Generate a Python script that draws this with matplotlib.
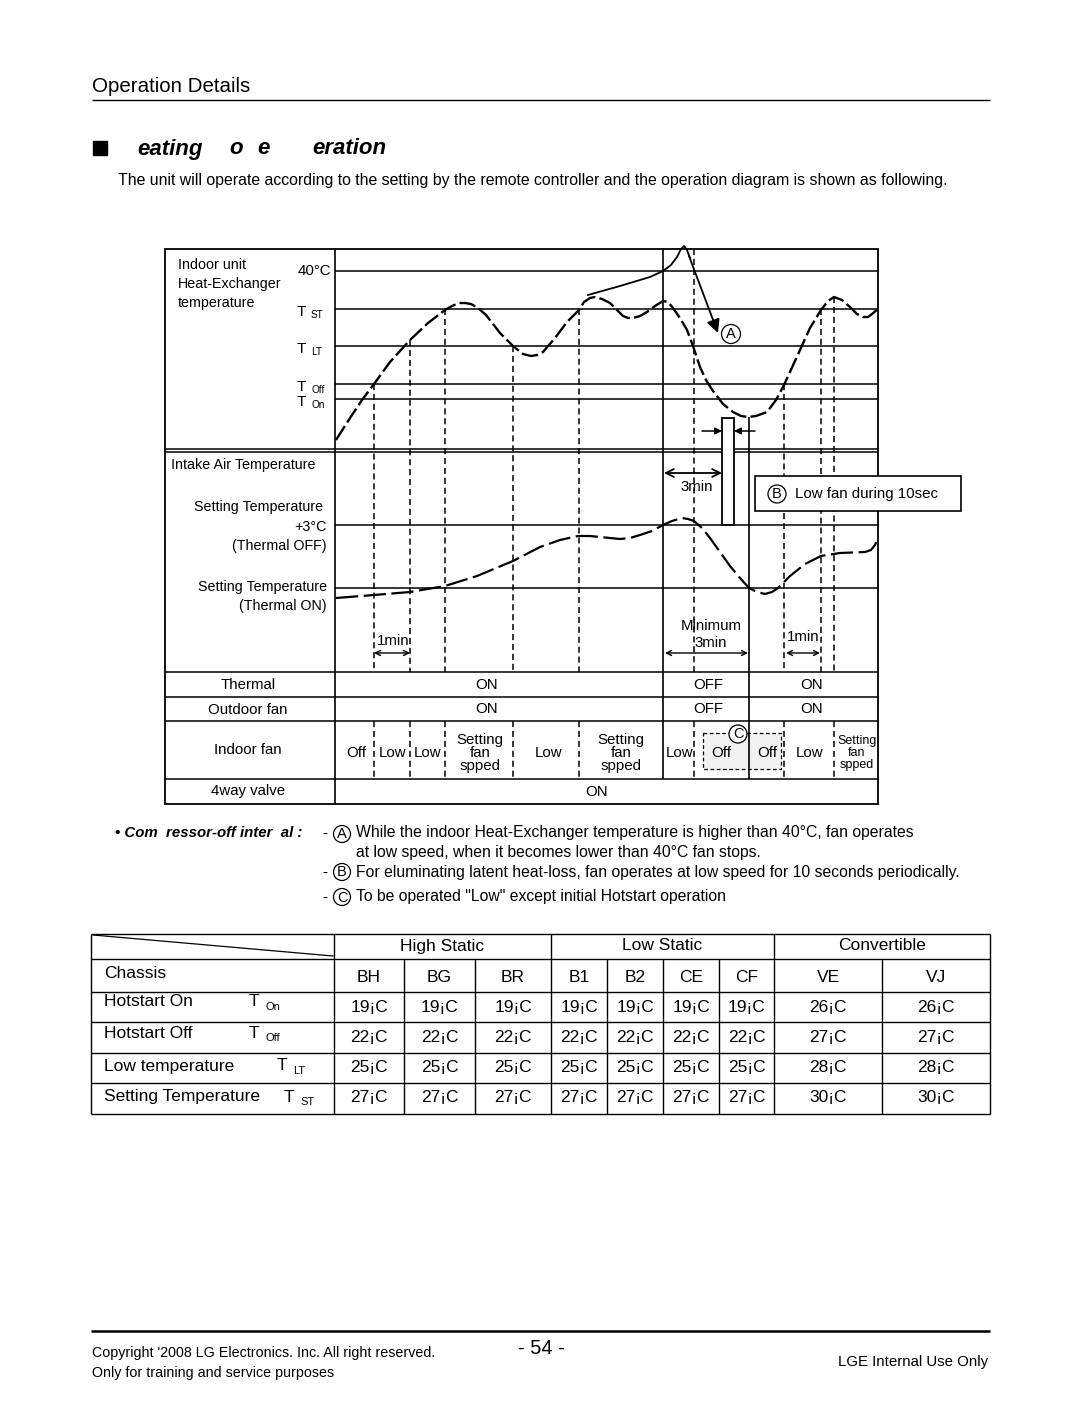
import matplotlib
matplotlib.use("Agg")
import matplotlib.pyplot as plt
from matplotlib.patches import Rectangle, Circle

FONT = ["Liberation Sans", "DejaVu Sans"]

# ---- diagram data (page pixel coordinates) ----
level_labels = ["40°C", "ST", "LT", "Off", "On"]
level_y = [271, 309, 346, 384, 399]
intake_level_y = [525, 588]

# indoor heat-exchanger temperature curve
hx_x = [336, 350, 362, 374, 390, 410, 428, 445, 452, 459, 465, 471, 478, 486, 500,
        513, 523, 531, 537, 543, 555, 567, 579, 584, 590, 595, 602, 610, 617, 623,
        628, 633, 640, 647, 655, 663, 668, 673, 680, 687, 693, 700, 706, 713, 723,
        733, 741, 748, 756, 767, 776, 784, 800, 810, 821, 828, 834, 842, 850, 857,
        863, 868, 872, 878]
hx_y = [440, 418, 400, 384, 362, 340, 323, 310, 306, 303, 303, 304, 308, 315, 333,
        346, 354, 356, 355, 352, 338, 322, 310, 302, 298, 297, 299, 303, 310, 316,
        318, 318, 316, 312, 306, 301, 302, 308, 318, 330, 346, 367, 380, 391, 404,
        412, 416, 417, 416, 412, 400, 385, 350, 328, 310, 301, 297, 300, 307, 314,
        317, 317, 314, 309]

# over-40°C excursion (solid line)
peak_x = [588, 620, 650, 663, 671, 677, 681, 684, 687, 690]
peak_y = [295, 286, 277, 271, 265, 257, 249, 246, 250, 258]

# intake air temperature curve
intake_x = [336, 374, 410, 445, 477, 513, 540, 560, 578, 590, 600, 610, 620, 630,
            640, 652, 663, 672, 682, 688, 694, 702, 710, 720, 730, 740, 749, 757,
            765, 772, 778, 790, 805, 821, 840, 865, 871, 875, 878]
intake_y = [598, 595, 592, 586, 576, 561, 547, 540, 536, 536, 537, 538, 539, 538,
            535, 531, 525, 521, 518, 519, 521, 528, 538, 552, 566, 578, 588, 592,
            594, 592, 588, 576, 564, 556, 553, 552, 550, 545, 538]

# compressor timing markers: (x, top of dashed line)
marker_x = [374, 410, 445, 513, 579, 694, 784, 821, 834]
marker_top = [384, 340, 309, 346, 309, 249, 384, 309, 297]
fan_marker_x = [374, 410, 445, 513, 579, 694, 784, 834]

row_labels = ["Thermal", "Outdoor fan", "Indoor fan", "4way valve"]
thermal_states = ["ON", "OFF", "ON"]
outdoor_states = ["ON", "OFF", "ON"]
state_x = [487, 708, 812]
fan_states = ["Off", "Low", "Low", "Setting\nfan\nspped", "Low", "Setting\nfan\nspped",
              "Low", "Off", "Off", "Low", "Setting\nfan\nspped"]
fan_state_x = [356, 393, 428, 480, 549, 621, 680, 721, 767, 810, 857]

# ---- table data ----
groups = ["High Static", "Low Static", "Convertible"]
chassis = ["BH", "BG", "BR", "B1", "B2", "CE", "CF", "VE", "VJ"]
row_names = ["Hotstart On", "Hotstart Off", "Low temperature", "Setting Temperature"]
row_subs = ["On", "Off", "LT", "ST"]
hotstart_on = [19, 19, 19, 19, 19, 19, 19, 26, 26]
hotstart_off = [22, 22, 22, 22, 22, 22, 22, 27, 27]
low_temp = [25, 25, 25, 25, 25, 25, 25, 28, 28]
setting_temp = [27, 27, 27, 27, 27, 27, 27, 30, 30]

fig = plt.figure(figsize=(10.8, 14.05), dpi=100)
ax = fig.add_axes([0, 0, 1, 1])
ax.set_xlim(0, 1080)
ax.set_ylim(1405, 0)
ax.axis("off")


def put(x, y, s, size=10.5, ha="left", va="center", **kw):
    ax.text(x, y, s, fontsize=size, ha=ha, va=va, family=FONT, **kw)


def hline(y, x0, x1, lw=1.0, **kw):
    ax.plot([x0, x1], [y, y], color="black", lw=lw, solid_capstyle="butt", **kw)


def vline(x, y0, y1, lw=1.0, **kw):
    ax.plot([x, x], [y0, y1], color="black", lw=lw, solid_capstyle="butt", **kw)


def circled(x, y, letter, r=9, size=10.5):
    ax.add_patch(Circle((x, y), r, fc="white", ec="black", lw=0.9, zorder=5))
    put(x, y + 0.5, letter, size=size, ha="center", zorder=6)


# ---- page header ----
put(92, 87, "Operation Details", size=14.8)
hline(100, 92, 990, lw=1.0)
ax.add_patch(Rectangle((93, 141), 14, 14, color="black"))
for x, s in zip([137, 229, 257, 312], ["eating", "o", "e", "eration"]):
    put(x, 149, s, size=16, weight="bold", style="italic")
put(118, 181, "The unit will operate according to the setting by the remote controller "
    "and the operation diagram is shown as following.", size=11.4)

# ---- diagram frame ----
L, M, R = 165, 335, 878
ax.add_patch(Rectangle((L, 249), R - L, 555, fill=False, ec="black", lw=1.3))
vline(M, 249, 804, lw=1.2)
for y in [449, 452, 672, 697, 721, 779]:
    hline(y, L, R, lw=1.1)
for y in level_y + intake_level_y:
    hline(y, M, R, lw=1.1)
vline(663, 249, 779, lw=1.2)
vline(749, 417, 779, lw=1.2)

# left column labels
put(178, 265, "Indoor unit", size=10.3)
put(178, 284, "Heat-Exchanger", size=10.3)
put(178, 303, "temperature", size=10.3)
put(331, 271, level_labels[0], size=10.8, ha="right")
for y, sub in zip(level_y[1:], level_labels[1:]):
    put(297, y + 3, "T", size=11)
    put(311, y + 6, sub, size=7.2)
put(171, 465, "Intake Air Temperature", size=10.3)
put(323, 507, "Setting Temperature", size=10.3, ha="right")
put(327, 527, "+3°C", size=10.3, ha="right")
put(327, 546, "(Thermal OFF)", size=10.3, ha="right")
put(327, 587, "Setting Temperature", size=10.3, ha="right")
put(327, 606, "(Thermal ON)", size=10.3, ha="right")
for y, s in zip([685, 710, 750, 791], row_labels):
    put(248, y, s, size=10.8, ha="center")

# timing markers
for x, top in zip(marker_x, marker_top):
    ax.plot([x, x], [top, 672], color="black", lw=1.1, ls=(0, (4, 2.5)))
for x in fan_marker_x:
    ax.plot([x, x], [721, 779], color="black", lw=1.1, ls=(0, (4, 2.5)))

# curves
ax.plot(hx_x, hx_y, color="black", lw=1.7, ls=(0, (7, 1.8)), solid_joinstyle="round")
ax.plot(peak_x, peak_y, color="black", lw=1.3)
ax.annotate("", xy=(718, 333), xytext=(689, 256),
            arrowprops=dict(arrowstyle="-|>", lw=1.3, color="black", mutation_scale=20,
                            shrinkA=0, shrinkB=0))
circled(731, 334, "A", r=9.5)
ax.plot(intake_x, intake_y, color="black", lw=1.6, ls=(0, (10, 2.5)))

# B: low fan pulse
ax.add_patch(Rectangle((722, 418), 12, 107, fc="white", ec="black", lw=1.3, zorder=4))
ax.annotate("", xy=(722, 431), xytext=(702, 431),
            arrowprops=dict(arrowstyle="-|>", lw=1.1, color="black", mutation_scale=10,
                            shrinkA=0, shrinkB=0))
ax.annotate("", xy=(734, 431), xytext=(755, 431),
            arrowprops=dict(arrowstyle="-|>", lw=1.1, color="black", mutation_scale=10,
                            shrinkA=0, shrinkB=0))
ax.annotate("", xy=(722, 473), xytext=(664, 473),
            arrowprops=dict(arrowstyle="<->", lw=1.3, color="black", mutation_scale=14,
                            shrinkA=0, shrinkB=0))
put(697, 487, "3min", size=10.8, ha="center")
ax.add_patch(Rectangle((755, 476), 206, 35, fc="white", ec="black", lw=1.2, zorder=4))
circled(777, 494, "B", r=9)
put(795, 494, "Low fan during 10sec", size=10.8, zorder=6)

# time spans
for x0, x1 in [(374, 410), (665, 748), (786, 820)]:
    ax.annotate("", xy=(x1, 653), xytext=(x0, 653),
                arrowprops=dict(arrowstyle="<->", lw=1.0, color="black", mutation_scale=9,
                                shrinkA=0, shrinkB=0))
put(393, 641, "1min", size=10.8, ha="center")
put(803, 637, "1min", size=10.8, ha="center")
put(711, 626, "Minimum", size=10.8, ha="center")
put(711, 643, "3min", size=10.8, ha="center")

# state rows
for x, s in zip(state_x, thermal_states):
    put(x, 685, s, size=10.8, ha="center")
for x, s in zip(state_x, outdoor_states):
    put(x, 709, s, size=10.8, ha="center")
put(597, 792, "ON", size=10.8, ha="center")

ax.add_patch(Rectangle((703, 733), 78, 36, fc="#f1f1f1", ec="black", lw=0.9,
                       ls=(0, (3, 2)), zorder=1))
circled(738, 734, "C", r=9)
for x, s in zip(fan_state_x, fan_states):
    small = x > 850
    put(x, 753, s, size=9 if small else 10.8, ha="center", linespacing=0.95)

# ---- notes ----
put(115, 833, "• Com  ressor-off inter  al :", size=10.8, weight="bold", style="italic")
for y in [833, 872, 897]:
    put(322, y, "-", size=11)
circled(342, 834, "A", r=8.5)
circled(342, 872, "B", r=8.5)
circled(342, 897, "C", r=8.5)
put(356, 833, "While the indoor Heat-Exchanger temperature is higher than 40°C, fan operates",
    size=11.3)
put(356, 853, "at low speed, when it becomes lower than 40°C fan stops.", size=11.3)
put(356, 872, "For eluminating latent heat-loss, fan operates at low speed for 10 seconds "
    "periodically.", size=11.3)
put(356, 897, "To be operated \"Low\" except initial Hotstart operation", size=11.3)

# ---- table ----
tL, tR = 91, 990
rows_y = [934, 959, 992, 1022, 1053, 1083, 1114]
col_edges = [334, 404, 475, 551, 607, 663, 719, 774, 882, 990]
for y in rows_y:
    hline(y, tL, tR, lw=1.0)
for x in [tL, 334, 551, 774, tR]:
    vline(x, 934, 1114, lw=1.0)
for x in [404, 475, 607, 663, 719, 882]:
    vline(x, 959, 1114, lw=1.0)
ax.plot([93, 333], [935, 956], color="black", lw=0.9)

for (x0, x1), g in zip([(334, 551), (551, 774), (774, 990)], groups):
    put((x0 + x1) / 2, 946, g, size=12.5, ha="center")
put(104, 973, "Chassis", size=12.5)
col_cx = [(col_edges[i] + col_edges[i + 1]) / 2 for i in range(len(chassis))]
for cx, c in zip(col_cx, chassis):
    put(cx, 977, c, size=12.5, ha="center")

name_y = [1002, 1033, 1066, 1097]
t_x = [249, 249, 277, 284]
for y, name, sub, tx in zip(name_y, row_names, row_subs, t_x):
    put(104, y, name, size=12.5)
    put(tx, y, "T", size=12.5)
    put(tx + 16, y + 5, sub, size=8)

val_y = [1007, 1037, 1068, 1098]
for y, vals in zip(val_y, [hotstart_on, hotstart_off, low_temp, setting_temp]):
    for cx, v in zip(col_cx, vals):
        put(cx, y, "%d¡C" % v, size=12.5, ha="center")

# ---- footer ----
hline(1331, 91, 990, lw=1.8)
put(92, 1353, "Copyright '2008 LG Electronics. Inc. All right reserved.", size=10.3)
put(92, 1373, "Only for training and service purposes", size=10.3)
put(541, 1348, "- 54 -", size=14.5, ha="center")
put(988, 1362, "LGE Internal Use Only", size=10.8, ha="right")

fig.savefig("out.png", dpi=100, facecolor="white")
